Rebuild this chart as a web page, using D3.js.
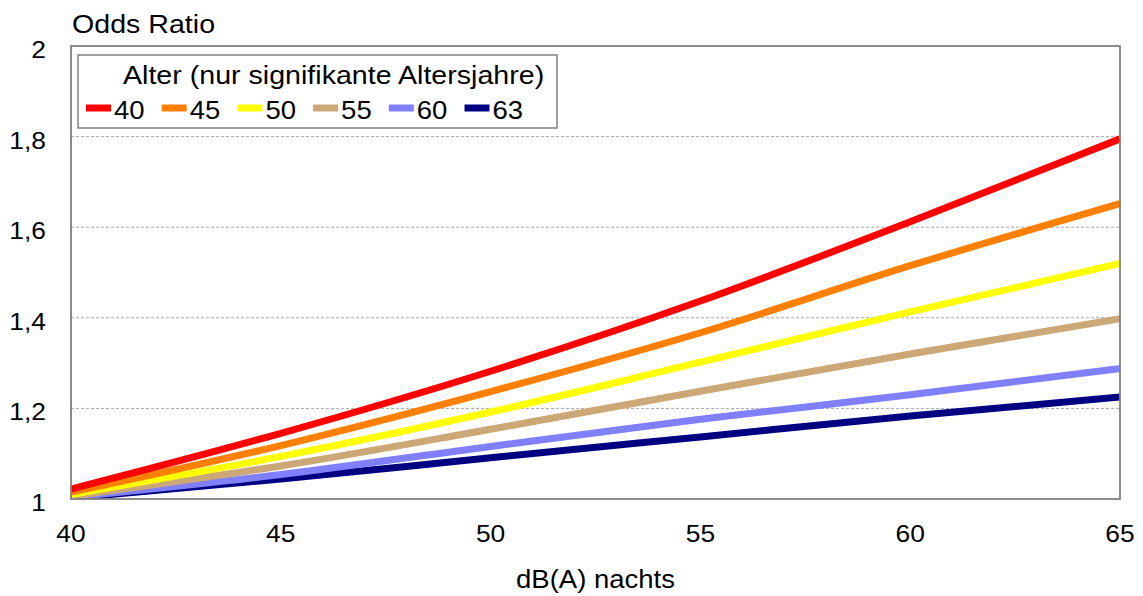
<!DOCTYPE html>
<html><head><meta charset="utf-8">
<script src="https://cdn.jsdelivr.net/npm/d3@7"></script>
<style>html,body{margin:0;padding:0;background:#fff;}text{font-family:"Liberation Sans",Arial,sans-serif;fill:#000;}</style>
</head><body>
<svg id="c" width="1143" height="596"></svg>
<script>
const xValues = [40, 45, 50, 55, 60, 65];
const seriesNames = ["40", "45", "50", "55", "60", "63"];
const seriesColors = ["#FF0000", "#FF8000", "#FFFF00", "#CDA877", "#8080FF", "#000080"];
const values40 = [1.022, 1.145, 1.282, 1.437, 1.612, 1.795];
const values45 = [1.015, 1.118, 1.237, 1.367, 1.515, 1.652];
const values50 = [1.010, 1.094, 1.192, 1.302, 1.413, 1.520];
const values55 = [1.006, 1.073, 1.154, 1.238, 1.320, 1.398];
const values60 = [1.004, 1.054, 1.116, 1.176, 1.230, 1.288];
const values63 = [1.002, 1.044, 1.091, 1.137, 1.183, 1.225];
const yTicks = [1, 1.2, 1.4, 1.6, 1.8, 2];
const xTicks = [40, 45, 50, 55, 60, 65];
const yTitle = "Odds Ratio";
const xTitle = "dB(A) nachts";
const legendTitle = "Alter (nur signifikante Altersjahre)";

const allValues = [values40, values45, values50, values55, values60, values63];
const series = seriesNames.map((n, i) => ({name: n, color: seriesColors[i], values: allValues[i]}));

const svg = d3.select("#c");
const L = 71, R = 1120, T = 46, B = 499;
const SX = 1.1;
const x = d3.scaleLinear().domain([40, 65]).range([L, R]);
const y = d3.scaleLinear().domain([1, 2]).range([B, T]);
const fmt = v => d3.format(".1~f")(v).replace(".", ",");

// gridlines
svg.append("g").selectAll("line").data(yTicks.filter(v => v > 1 && v < 2)).join("line")
  .attr("x1", L).attr("x2", R).attr("y1", d => y(d)).attr("y2", d => y(d))
  .attr("stroke", "#a8a8a8").attr("stroke-width", 1).attr("stroke-dasharray", "3,2");

// lines
svg.append("clipPath").attr("id", "clip").append("rect")
  .attr("x", L).attr("y", T).attr("width", R - L).attr("height", B - T);
const line = d3.line().x((d, i) => x(xValues[i])).y(d => y(d)).curve(d3.curveMonotoneX);
svg.append("g").attr("clip-path", "url(#clip)").selectAll("path")
  .data(series.slice().reverse()).join("path")
  .attr("d", d => line(d.values)).attr("fill", "none")
  .attr("stroke", d => d.color).attr("stroke-width", 7)
  .attr("stroke-linejoin", "round");

// frame
svg.append("rect").attr("x", L).attr("y", T).attr("width", R - L).attr("height", B - T)
  .attr("fill", "none").attr("stroke", "#808080").attr("stroke-width", 1.8);

// y tick labels
svg.append("g").selectAll("text").data(yTicks).join("text")
  .attr("transform", d => `translate(46,${y(d) + 12}) scale(${SX},1)`)
  .attr("text-anchor", "end").attr("font-size", 24).text(d => fmt(d));

// x tick labels
svg.append("g").selectAll("text").data(xTicks).join("text")
  .attr("transform", d => `translate(${x(d)},542) scale(${SX},1)`)
  .attr("text-anchor", "middle").attr("font-size", 24).text(d => d);

// titles
svg.append("text").attr("transform", `translate(72,33) scale(${SX},1)`)
  .attr("font-size", 26).text(yTitle);
svg.append("text").attr("transform", `translate(${(L + R) / 2},588) scale(${SX},1)`)
  .attr("text-anchor", "middle").attr("font-size", 25).text(xTitle);

// legend
const lg = svg.append("g");
lg.append("rect").attr("x", 78).attr("y", 55).attr("width", 479).attr("height", 73)
  .attr("fill", "#fff").attr("stroke", "#808080").attr("stroke-width", 1.5);
lg.append("text").attr("transform", `translate(123,84) scale(${SX},1)`)
  .attr("font-size", 26).text(legendTitle);
const items = lg.selectAll("g.item").data(series).join("g").attr("class", "item")
  .attr("transform", (d, i) => `translate(${86 + i * 75.7},0)`);
items.append("line").attr("x1", 0).attr("x2", 25).attr("y1", 108).attr("y2", 108)
  .attr("stroke", d => d.color).attr("stroke-width", 7);
items.append("text").attr("transform", `translate(28,119) scale(${SX},1)`)
  .attr("font-size", 25).text(d => d.name);
</script>
</body></html>
